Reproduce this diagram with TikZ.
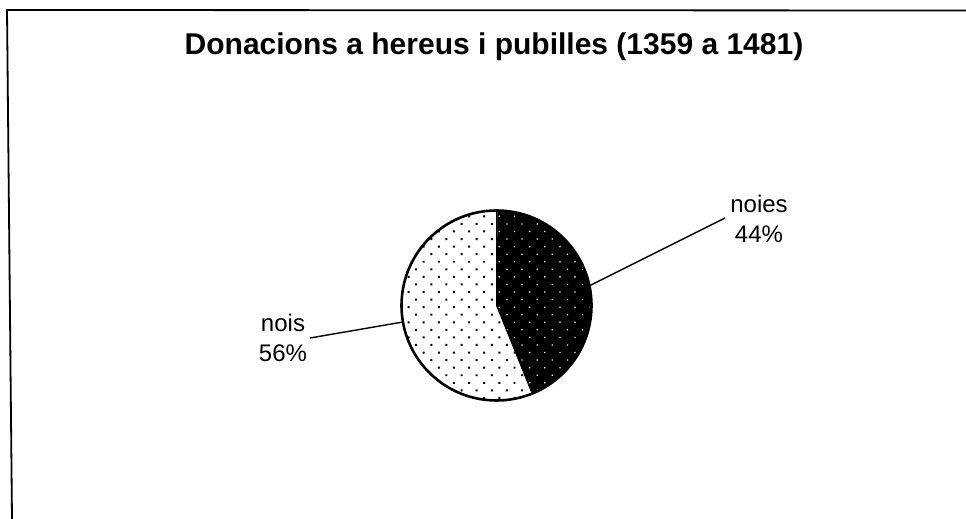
\documentclass[tikz,border=0pt]{standalone}
\usepackage{fontspec}
\setmainfont{Liberation Sans}
\usetikzlibrary{patterns.meta}
\tikzset{
  frameline/.style={line width=1.8pt, black},
  leader/.style={line width=1.4pt, black},
  lbl/.style={align=center, inner sep=0pt, font=\fontsize{24}{30}\selectfont},
  darkslice/.style={fill=black, postaction={pattern={Dots[angle=45,distance=10.7pt,radius=0.9pt]}, pattern color=white}},
  lightslice/.style={fill=white, postaction={pattern={Dots[angle=45,distance=10.7pt,radius=1.4pt]}, pattern color=black}},
}
\begin{document}
\begin{tikzpicture}[x=1pt,y=1pt]
\useasboundingbox (0,0) rectangle (966,519);
\fill[white] (0,0) rectangle (966,519);
% frame (scanned: only top and left edges)
\coordinate (tl) at (7,509);
\coordinate (tr) at (966,508.5);
\coordinate (bl) at (12,0);
\draw[frameline] (tr) -- (tl) -- (bl);
% title
\node[anchor=base, inner sep=0pt, font=\bfseries\fontsize{30}{35}\selectfont] (title) at (494,464) {Donacions a hereus i pubilles (1359 a 1481)};
% pie
\node[circle, minimum size=190pt, inner sep=0pt] (pie) at (496.5,213.5) {};
\path[darkslice] (pie.center) -- (pie.90) arc[start angle=90, end angle=-68.4, radius=95pt] -- cycle;
\path[lightslice] (pie.center) -- (pie.-68.4) arc[start angle=-68.4, end angle=-270, radius=95pt] -- cycle;
\draw[line width=1pt] (pie.90) -- (pie.center) -- (pie.-68.4);
\draw[line width=2.6pt] (pie.center) circle[radius=95pt];
% labels (base anchor = baseline of last line)
\node[lbl, anchor=base] (noies) at (759,276) {noies\\44\%};
\node[lbl, anchor=base] (nois) at (283,157) {nois\\56\%};
\coordinate (noiesend) at (725,301);
\coordinate (noisend) at (310,181);
\draw[leader] (pie.12.4) -- (noiesend);
\draw[leader] (pie.190) -- (noisend);
\end{tikzpicture}
\end{document}
